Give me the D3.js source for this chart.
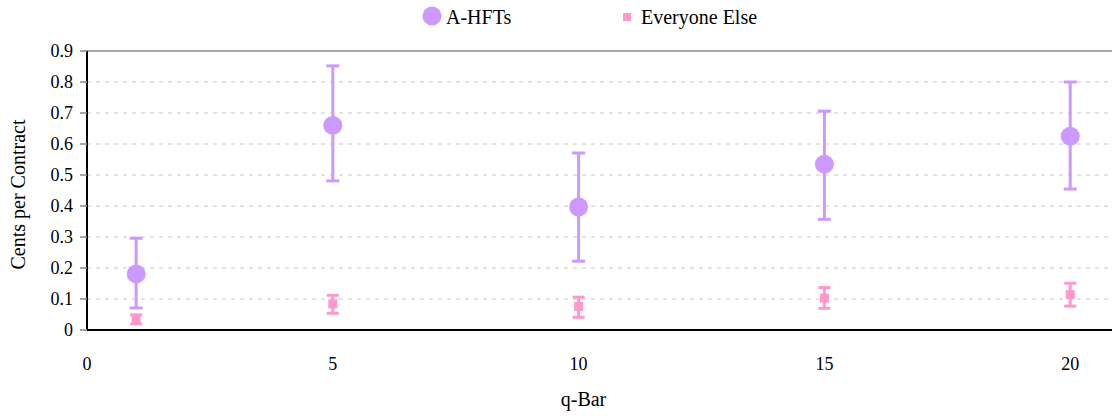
<!DOCTYPE html>
<html>
<head>
<meta charset="utf-8">
<script src="https://cdn.jsdelivr.net/npm/d3@7"></script>
</head>
<body style="margin:0; font-family: 'Liberation Serif', serif;">
<svg id="chart" width="1112" height="416" font-family="Liberation Serif"></svg>
<script>
const qBar = [1, 5, 10, 15, 20];

const hftMean = [0.181, 0.660, 0.397, 0.535, 0.625];
const hftLow = [0.071, 0.481, 0.222, 0.357, 0.455];
const hftHigh = [0.296, 0.852, 0.571, 0.706, 0.800];

const elseMean = [0.034, 0.084, 0.076, 0.103, 0.114];
const elseLow = [0.020, 0.054, 0.041, 0.070, 0.077];
const elseHigh = [0.049, 0.112, 0.106, 0.137, 0.151];

const xTicks = [0, 5, 10, 15, 20];
const yTicks = [0, 0.1, 0.2, 0.3, 0.4, 0.5, 0.6, 0.7, 0.8, 0.9];

const width = 1112, height = 416;
const margin = { top: 51, right: 0, bottom: 86, left: 87 };
const purple = "#cc99ff";
const pink = "#ff99cc";
const font = "Liberation Serif";

const svg = d3.select("#chart");

const x = d3.scaleLinear().domain([0, 20.85]).range([margin.left, width - margin.right]);
const y = d3.scaleLinear().domain([0, 0.9]).range([height - margin.bottom, margin.top]);

// gridlines
svg.append("g")
    .selectAll("line")
    .data(yTicks.filter(t => t > 0 && t < 0.9))
    .join("line")
    .attr("x1", margin.left).attr("x2", width - margin.right)
    .attr("y1", d => y(d)).attr("y2", d => y(d))
    .attr("stroke", "#c8c8c8")
    .attr("stroke-dasharray", "4,5");

// top border
svg.append("line")
    .attr("x1", margin.left).attr("x2", width)
    .attr("y1", y(0.9)).attr("y2", y(0.9))
    .attr("stroke", "#888").attr("stroke-width", 1.5);

// y axis (drawn by hand so no sans-serif default is attached)
const yAxis = svg.append("g");
yAxis.append("line")
    .attr("x1", margin.left).attr("x2", margin.left)
    .attr("y1", y(0)).attr("y2", y(0.9))
    .attr("stroke", "#000").attr("stroke-width", 2);
yAxis.selectAll(".tick")
    .data(yTicks)
    .join("line")
    .attr("x1", margin.left - 7).attr("x2", margin.left)
    .attr("y1", d => y(d)).attr("y2", d => y(d))
    .attr("stroke", "#888").attr("stroke-width", 1.5);
yAxis.selectAll("text")
    .data(yTicks)
    .join("text")
    .attr("x", margin.left - 14)
    .attr("y", d => y(d) + 6)
    .attr("text-anchor", "end")
    .attr("font-family", font)
    .attr("font-size", 18)
    .text(d => d === 0 ? "0" : d3.format(".1f")(d));

// x axis
svg.append("line")
    .attr("x1", margin.left).attr("x2", width)
    .attr("y1", y(0)).attr("y2", y(0))
    .attr("stroke", "#000").attr("stroke-width", 2);

svg.append("g")
    .selectAll("text")
    .data(xTicks)
    .join("text")
    .attr("x", d => x(d))
    .attr("y", y(0) + 40)
    .attr("text-anchor", "middle")
    .attr("font-family", font)
    .attr("font-size", 18)
    .text(d => d);

// axis titles
svg.append("text")
    .attr("x", (margin.left + width) / 2 - 16)
    .attr("y", 406)
    .attr("text-anchor", "middle")
    .attr("font-family", font)
    .attr("font-size", 20)
    .text("q-Bar");

svg.append("text")
    .attr("transform", `translate(25,${(y(0) + y(0.9)) / 2 + 4}) rotate(-90)`)
    .attr("text-anchor", "middle")
    .attr("font-family", font)
    .attr("font-size", 20)
    .text("Cents per Contract");

// error bars
function errorBars(low, high, color, capW) {
    const g = svg.append("g");
    qBar.forEach((q, i) => {
        g.append("line")
            .attr("x1", x(q)).attr("x2", x(q))
            .attr("y1", y(low[i])).attr("y2", y(high[i]))
            .attr("stroke", color).attr("stroke-width", 3);
        [low[i], high[i]].forEach(v => {
            g.append("line")
                .attr("x1", x(q) - capW / 2).attr("x2", x(q) + capW / 2)
                .attr("y1", y(v)).attr("y2", y(v))
                .attr("stroke", color).attr("stroke-width", 3);
        });
    });
}

errorBars(hftLow, hftHigh, purple, 13);
errorBars(elseLow, elseHigh, pink, 12);

svg.append("g")
    .selectAll("circle")
    .data(qBar)
    .join("circle")
    .attr("cx", d => x(d))
    .attr("cy", (d, i) => y(hftMean[i]))
    .attr("r", 9.5)
    .attr("fill", purple);

svg.append("g")
    .selectAll("rect")
    .data(qBar)
    .join("rect")
    .attr("x", d => x(d) - 4.5)
    .attr("y", (d, i) => y(elseMean[i]) - 4.5)
    .attr("width", 9)
    .attr("height", 9)
    .attr("fill", pink);

// legend
const legend = svg.append("g");
legend.append("circle").attr("cx", 432).attr("cy", 16).attr("r", 9.5).attr("fill", purple);
legend.append("text").attr("x", 446).attr("y", 24).attr("font-family", font).attr("font-size", 20).text("A-HFTs");
legend.append("rect").attr("x", 623).attr("y", 13).attr("width", 8).attr("height", 8).attr("fill", pink);
legend.append("text").attr("x", 641).attr("y", 24).attr("font-family", font).attr("font-size", 20).text("Everyone Else");
</script>
</body>
</html>
